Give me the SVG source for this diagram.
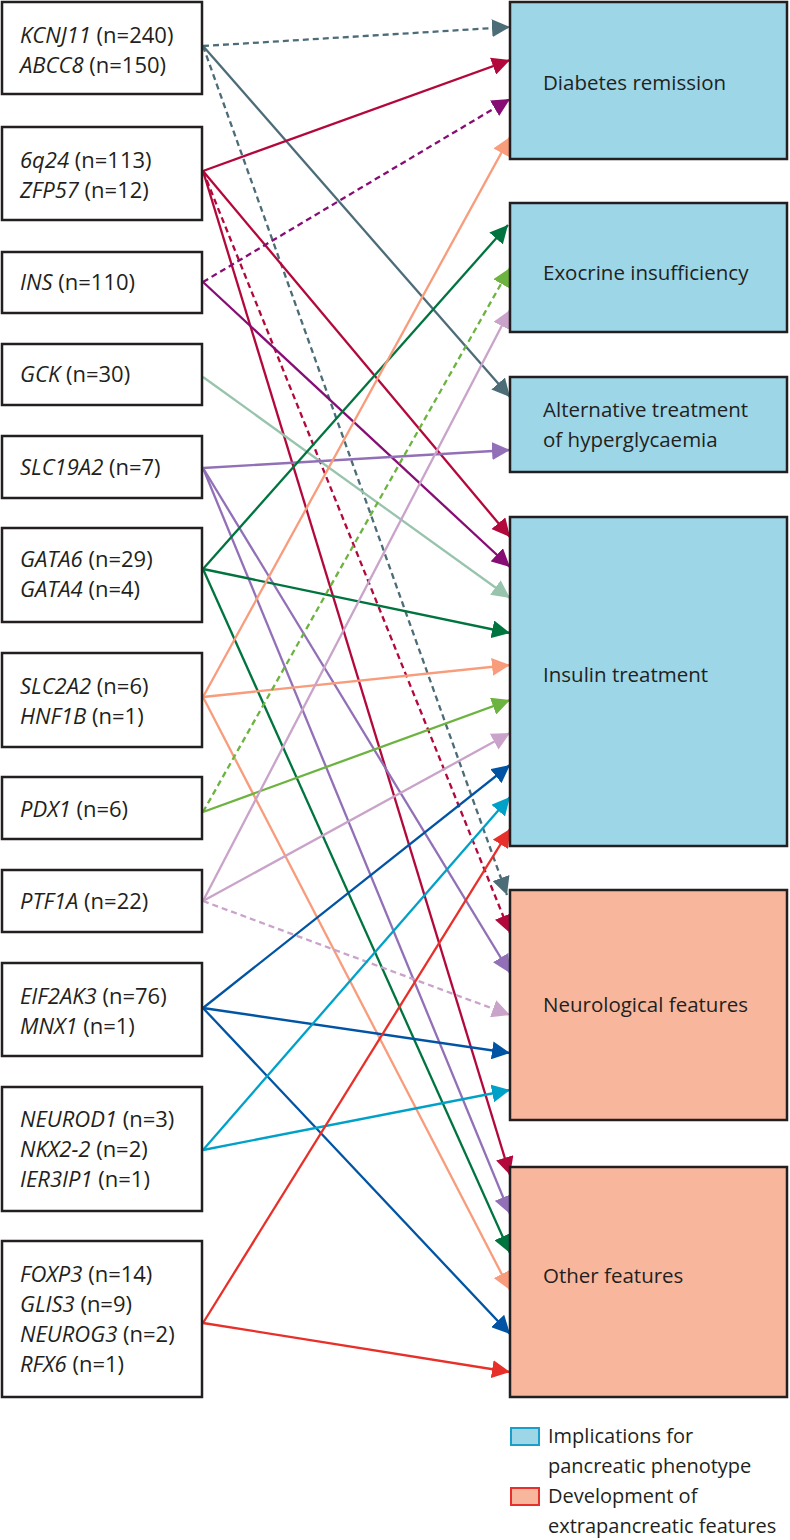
<svg xmlns="http://www.w3.org/2000/svg" width="790" height="1540" viewBox="0 0 790 1540">
<style>
text{font-family:"Open Sans","Noto Sans",sans-serif;fill:#231f20;}
.g{font-size:22px;}
.r{font-size:20.5px;}
.l{font-size:20px;}
.i{font-style:italic;}
.lb{fill:#fff;stroke:#231f20;stroke-width:2.5;}
.bb{fill:#9dd6e7;stroke:#231f20;stroke-width:2.5;}
.sb{fill:#f8b79d;stroke:#231f20;stroke-width:2.5;}
.c{fill:none;stroke-width:2.3;}
.d{stroke-dasharray:6 4;}
</style>
<defs>
<marker id="m-slate" markerUnits="userSpaceOnUse" markerWidth="19" markerHeight="18" refX="18" refY="9" orient="auto"><path d="M0,0L18,9L0,18z" fill="#4c6c78"/></marker>
<marker id="m-crim" markerUnits="userSpaceOnUse" markerWidth="19" markerHeight="18" refX="18" refY="9" orient="auto"><path d="M0,0L18,9L0,18z" fill="#b3083b"/></marker>
<marker id="m-purp" markerUnits="userSpaceOnUse" markerWidth="19" markerHeight="18" refX="18" refY="9" orient="auto"><path d="M0,0L18,9L0,18z" fill="#860d74"/></marker>
<marker id="m-mint" markerUnits="userSpaceOnUse" markerWidth="19" markerHeight="18" refX="18" refY="9" orient="auto"><path d="M0,0L18,9L0,18z" fill="#98c4ad"/></marker>
<marker id="m-viol" markerUnits="userSpaceOnUse" markerWidth="19" markerHeight="18" refX="18" refY="9" orient="auto"><path d="M0,0L18,9L0,18z" fill="#9170b7"/></marker>
<marker id="m-dgrn" markerUnits="userSpaceOnUse" markerWidth="19" markerHeight="18" refX="18" refY="9" orient="auto"><path d="M0,0L18,9L0,18z" fill="#00743f"/></marker>
<marker id="m-salm" markerUnits="userSpaceOnUse" markerWidth="19" markerHeight="18" refX="18" refY="9" orient="auto"><path d="M0,0L18,9L0,18z" fill="#f89c7b"/></marker>
<marker id="m-lgrn" markerUnits="userSpaceOnUse" markerWidth="19" markerHeight="18" refX="18" refY="9" orient="auto"><path d="M0,0L18,9L0,18z" fill="#6cb33f"/></marker>
<marker id="m-lil" markerUnits="userSpaceOnUse" markerWidth="19" markerHeight="18" refX="18" refY="9" orient="auto"><path d="M0,0L18,9L0,18z" fill="#c9a3c9"/></marker>
<marker id="m-blue" markerUnits="userSpaceOnUse" markerWidth="19" markerHeight="18" refX="18" refY="9" orient="auto"><path d="M0,0L18,9L0,18z" fill="#0054a3"/></marker>
<marker id="m-cyan" markerUnits="userSpaceOnUse" markerWidth="19" markerHeight="18" refX="18" refY="9" orient="auto"><path d="M0,0L18,9L0,18z" fill="#00a1c8"/></marker>
<marker id="m-red" markerUnits="userSpaceOnUse" markerWidth="19" markerHeight="18" refX="18" refY="9" orient="auto"><path d="M0,0L18,9L0,18z" fill="#e8302a"/></marker>
</defs>

<g id="connectors">
<line class="c d" x1="203" y1="46" x2="510" y2="27" stroke="#4c6c78" marker-end="url(#m-slate)"/>
<line class="c" x1="203" y1="46" x2="510" y2="397" stroke="#4c6c78" marker-end="url(#m-slate)"/>
<line class="c d" x1="203" y1="46" x2="507" y2="895" stroke="#4c6c78" marker-end="url(#m-slate)"/>

<line class="c" x1="203" y1="171" x2="510" y2="60" stroke="#b3083b" marker-end="url(#m-crim)"/>
<line class="c" x1="203" y1="171" x2="510" y2="537" stroke="#b3083b" marker-end="url(#m-crim)"/>
<line class="c d" x1="203" y1="171" x2="510" y2="933" stroke="#b3083b" marker-end="url(#m-crim)"/>
<line class="c" x1="203" y1="171" x2="510" y2="1175" stroke="#b3083b" marker-end="url(#m-crim)"/>

<line class="c d" x1="203" y1="282" x2="510" y2="99" stroke="#860d74" marker-end="url(#m-purp)"/>
<line class="c" x1="203" y1="282" x2="510" y2="567" stroke="#860d74" marker-end="url(#m-purp)"/>

<line class="c" x1="203" y1="377" x2="510" y2="598" stroke="#98c4ad" marker-end="url(#m-mint)"/>

<line class="c" x1="203" y1="468" x2="510" y2="450" stroke="#9170b7" marker-end="url(#m-viol)"/>
<line class="c" x1="203" y1="468" x2="510" y2="973" stroke="#9170b7" marker-end="url(#m-viol)"/>
<line class="c" x1="203" y1="468" x2="510" y2="1214" stroke="#9170b7" marker-end="url(#m-viol)"/>

<line class="c" x1="203" y1="569" x2="508" y2="225" stroke="#00743f" marker-end="url(#m-dgrn)"/>
<line class="c" x1="203" y1="569" x2="510" y2="633" stroke="#00743f" marker-end="url(#m-dgrn)"/>
<line class="c" x1="203" y1="569" x2="510" y2="1253" stroke="#00743f" marker-end="url(#m-dgrn)"/>

<line class="c" x1="203" y1="697" x2="510" y2="137" stroke="#f89c7b" marker-end="url(#m-salm)"/>
<line class="c" x1="203" y1="697" x2="510" y2="665" stroke="#f89c7b" marker-end="url(#m-salm)"/>
<line class="c" x1="203" y1="697" x2="510" y2="1290" stroke="#f89c7b" marker-end="url(#m-salm)"/>

<line class="c d" x1="203" y1="812" x2="510" y2="268" stroke="#6cb33f" marker-end="url(#m-lgrn)"/>
<line class="c" x1="203" y1="812" x2="510" y2="700" stroke="#6cb33f" marker-end="url(#m-lgrn)"/>

<line class="c" x1="203" y1="901" x2="510" y2="310" stroke="#c9a3c9" marker-end="url(#m-lil)"/>
<line class="c" x1="203" y1="901" x2="510" y2="733" stroke="#c9a3c9" marker-end="url(#m-lil)"/>
<line class="c d" x1="203" y1="901" x2="510" y2="1015" stroke="#c9a3c9" marker-end="url(#m-lil)"/>

<line class="c" x1="203" y1="1008" x2="510" y2="765" stroke="#0054a3" marker-end="url(#m-blue)"/>
<line class="c" x1="203" y1="1008" x2="510" y2="1053" stroke="#0054a3" marker-end="url(#m-blue)"/>
<line class="c" x1="203" y1="1008" x2="510" y2="1334" stroke="#0054a3" marker-end="url(#m-blue)"/>

<line class="c" x1="203" y1="1150" x2="510" y2="797" stroke="#00a1c8" marker-end="url(#m-cyan)"/>
<line class="c" x1="203" y1="1150" x2="510" y2="1090" stroke="#00a1c8" marker-end="url(#m-cyan)"/>

<line class="c" x1="203" y1="1323" x2="510" y2="829" stroke="#e8302a" marker-end="url(#m-red)"/>
<line class="c" x1="203" y1="1323" x2="510" y2="1372" stroke="#e8302a" marker-end="url(#m-red)"/>
</g>

<g id="n-kcnj11"><rect class="lb" x="2" y="2" width="200" height="92"/>
<text class="g" x="20" y="43"><tspan class="i">KCNJ11</tspan> (n=240)</text>
<text class="g" x="20" y="73"><tspan class="i">ABCC8</tspan> (n=150)</text></g>

<g id="n-6q24"><rect class="lb" x="2" y="127" width="200" height="93"/>
<text class="g" x="20" y="168"><tspan class="i">6q24</tspan> (n=113)</text>
<text class="g" x="20" y="198"><tspan class="i">ZFP57</tspan> (n=12)</text></g>

<g id="n-ins"><rect class="lb" x="2" y="252" width="200" height="61"/>
<text class="g" x="20" y="290"><tspan class="i">INS</tspan> (n=110)</text></g>

<g id="n-gck"><rect class="lb" x="2" y="344" width="200" height="61"/>
<text class="g" x="20" y="382"><tspan class="i">GCK</tspan> (n=30)</text></g>

<g id="n-slc19a2"><rect class="lb" x="2" y="436" width="200" height="62"/>
<text class="g" x="20" y="475"><tspan class="i">SLC19A2</tspan> (n=7)</text></g>

<g id="n-gata6"><rect class="lb" x="2" y="528" width="200" height="94"/>
<text class="g" x="20" y="567"><tspan class="i">GATA6</tspan> (n=29)</text>
<text class="g" x="20" y="597"><tspan class="i">GATA4</tspan> (n=4)</text></g>

<g id="n-slc2a2"><rect class="lb" x="2" y="653" width="200" height="94"/>
<text class="g" x="20" y="694"><tspan class="i">SLC2A2</tspan> (n=6)</text>
<text class="g" x="20" y="724"><tspan class="i">HNF1B</tspan> (n=1)</text></g>

<g id="n-pdx1"><rect class="lb" x="2" y="777" width="200" height="62"/>
<text class="g" x="20" y="817"><tspan class="i">PDX1</tspan> (n=6)</text></g>

<g id="n-ptf1a"><rect class="lb" x="2" y="870" width="200" height="62"/>
<text class="g" x="20" y="909"><tspan class="i">PTF1A</tspan> (n=22)</text></g>

<g id="n-eif2ak3"><rect class="lb" x="2" y="963" width="200" height="93"/>
<text class="g" x="20" y="1004"><tspan class="i">EIF2AK3</tspan> (n=76)</text>
<text class="g" x="20" y="1034"><tspan class="i">MNX1</tspan> (n=1)</text></g>

<g id="n-neurod1"><rect class="lb" x="2" y="1087" width="200" height="124"/>
<text class="g" x="20" y="1127"><tspan class="i">NEUROD1</tspan> (n=3)</text>
<text class="g" x="20" y="1157"><tspan class="i">NKX2-2</tspan> (n=2)</text>
<text class="g" x="20" y="1187"><tspan class="i">IER3IP1</tspan> (n=1)</text></g>

<g id="n-foxp3"><rect class="lb" x="2" y="1241" width="200" height="156"/>
<text class="g" x="20" y="1282"><tspan class="i">FOXP3</tspan> (n=14)</text>
<text class="g" x="20" y="1312"><tspan class="i">GLIS3</tspan> (n=9)</text>
<text class="g" x="20" y="1342"><tspan class="i">NEUROG3</tspan> (n=2)</text>
<text class="g" x="20" y="1372"><tspan class="i">RFX6</tspan> (n=1)</text></g>

<g id="n-remission"><rect class="bb" x="510" y="2" width="277" height="157"/>
<text class="r" x="543" y="90">Diabetes remission</text></g>

<g id="n-exocrine"><rect class="bb" x="510" y="203" width="277" height="129"/>
<text class="r" x="543" y="280">Exocrine insufficiency</text></g>

<g id="n-alternative"><rect class="bb" x="510" y="377" width="277" height="95"/>
<text class="r" x="543" y="417">Alternative treatment</text>
<text class="r" x="543" y="447">of hyperglycaemia</text></g>

<g id="n-insulin"><rect class="bb" x="510" y="517" width="277" height="329"/>
<text class="r" x="543" y="682">Insulin treatment</text></g>

<g id="n-neuro"><rect class="sb" x="510" y="890" width="277" height="230"/>
<text class="r" x="543" y="1012">Neurological features</text></g>

<g id="n-other"><rect class="sb" x="510" y="1167" width="277" height="230"/>
<text class="r" x="543" y="1283">Other features</text></g>

<g id="legend">
<rect x="511" y="1428" width="28" height="17" fill="#9dd6e7" stroke="#1aa0c8" stroke-width="2"/>
<text class="l" x="548" y="1443">Implications for</text>
<text class="l" x="548" y="1473">pancreatic phenotype</text>
<rect x="511" y="1488" width="28" height="17" fill="#f8b79d" stroke="#e8302a" stroke-width="2"/>
<text class="l" x="548" y="1503">Development of</text>
<text class="l" x="548" y="1533">extrapancreatic features</text>
</g>
</svg>
